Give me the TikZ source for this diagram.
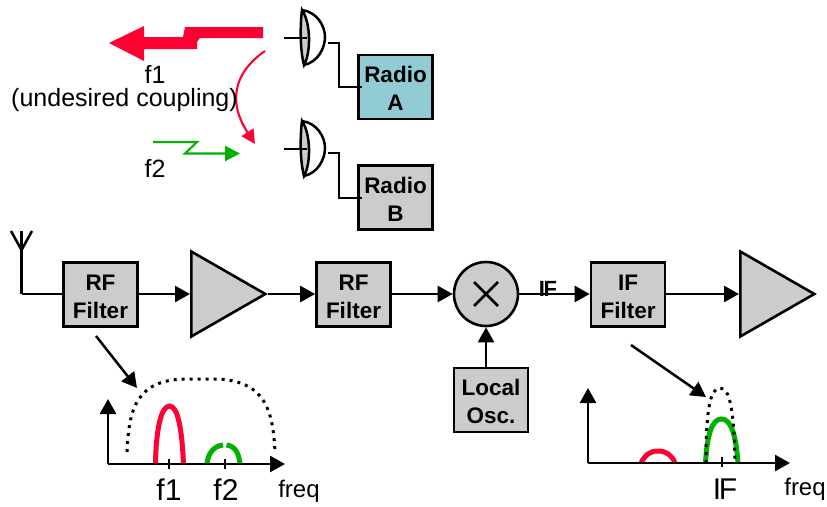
\documentclass[tikz,border=0pt]{standalone}
\usepackage{fontspec}
\setmainfont{Liberation Sans}
\usetikzlibrary{arrows.meta,shapes.geometric}
\definecolor{boxgray}{RGB}{204,204,204}
\definecolor{radioteal}{RGB}{145,204,212}
\definecolor{sigred}{RGB}{255,0,51}
\definecolor{siggreen}{RGB}{0,178,0}
\newcommand{\tl}{\rule{0pt}{19.4pt}}
\tikzset{
  blk/.style={draw=black,line width=2.6pt,fill=boxgray,minimum width=74pt,minimum height=64pt,inner sep=0pt,align=center,font=\fontsize{22.5}{28}\selectfont\bfseries},
  wire/.style={draw=black,line width=2.5pt},
  flow/.style={wire,-{Triangle[length=15pt,width=16pt]}},
  amp/.style={draw=black,line width=2.6pt,fill=boxgray,isosceles triangle,isosceles triangle apex angle=60,isosceles triangle stretches,minimum width=85pt,minimum height=74pt,inner sep=0pt,anchor=west},
  mixer/.style={draw=black,line width=2.6pt,fill=boxgray,circle,minimum size=64pt,inner sep=0pt},
  lbl/.style={inner sep=0pt,font=\fontsize{25}{28}\selectfont},
  biglbl/.style={inner sep=0pt,font=\fontsize{30}{34}\selectfont},
  smalllbl/.style={inner sep=0pt,font=\fontsize{24}{28}\selectfont},
  dish/.style={draw=black,line width=2.5pt},
  redpeak/.style={draw=sigred,line width=5pt},
  greenpeak/.style={draw=siggreen,line width=5pt},
  dotline/.style={draw=black,line width=3pt,dash pattern=on 3pt off 5pt},
}
\newcommand{\dishat}[2]{%
  \begin{scope}[shift={(#1,#2)}]
    \path[dish,fill=boxgray] (0,-28) .. controls (-2,-12) and (-2,12) .. (2,27) .. controls (9,15) and (9,-15) .. (0,-28) -- cycle;
    \path[dish] (0,-28) .. controls (15,-26) and (23,-12) .. (23,-1) .. controls (23,10) and (16,24) .. (2,27);
    \draw[wire] (-18,0) -- (5,0);
  \end{scope}}
\begin{document}
\begin{tikzpicture}[x=1pt,y=-1pt]
\useasboundingbox (0,0) rectangle (827,506);
% upper part
\fill[sigred] (109,43) -- (144,26) -- (144,37) -- (183,37) -- (185,27) -- (263,27) -- (263,38) -- (200,38) -- (197,42) -- (197,49) -- (144,49) -- (144,61) -- cycle;
\coordinate (cs) at (265,51);
\coordinate (ce) at (255,144);
\draw[draw=sigred,line width=2.1pt,-{Triangle[length=14pt,width=14pt]}] (cs) .. controls (240,68) and (224,96) .. (ce);
\coordinate (gs) at (153,142);
\coordinate (ge) at (240,153.5);
\draw[draw=siggreen,line width=2.1pt,-{Triangle[length=15pt,width=15pt]}] (gs) -- (197,142) -- (185,153.5) -- (ge);
\node[lbl] (f1t) at (155,74) {f1};
\node[lbl] (undes) at (124.5,100.5) {(undesired coupling)};
\node[lbl] (f2t) at (155,168) {f2};
\dishat{302}{38}
\dishat{302}{149}
\node[blk,fill=radioteal] (ra) at (395.5,87) {\tl Radio\\A};
\node[blk] (rb) at (395.5,197.5) {\tl Radio\\B};
\coordinate (da) at (328,43);
\coordinate (db) at (328,153);
\draw[wire] (da) -- (339,43) -- (339,87) -- (362,87);
\draw[wire] (db) -- (339,153) -- (339,198) -- (362,198);
% chain
\coordinate (antb) at (21.5,294);
\coordinate (anttop) at (21.5,250);
\draw[wire] (11,231) -- (anttop) -- (32,231);
\draw[wire] (21.5,231) -- (antb);
\node[blk] (rf1) at (100.5,294.5) {\tl RF\\Filter};
\node[amp] (a1) at (190,294) {};
\node[blk] (rf2) at (353.5,294.5) {\tl RF\\Filter};
\node[mixer] (mix) at (486,294) {};
\draw[draw=black,line width=2.8pt] (474,282) -- (498,306) (498,282) -- (474,306);
\node[blk] (lo) at (491,400) {\tl Local\\Osc.};
\node[blk] (iff) at (628,294.5) {\tl IF\\Filter};
\node[amp] (a2) at (739,294) {};
\draw[wire] (antb) -- (rf1.west |- antb);
\draw[flow] (rf1.east |- a1.west) -- (a1.west);
\draw[flow] (a1.east) -- (rf2.west |- a1.east);
\draw[flow] (rf2.east |- mix.west) -- (mix.west);
\draw[flow] (mix.east) -- (iff.west |- mix.east);
\draw[flow] (iff.east |- a2.west) -- (a2.west);
\draw[flow] (lo.north -| mix.south) -- (mix.south);
\node[inner sep=0pt,font=\fontsize{22}{26}\selectfont\bfseries] (iflbl) at (548,289) {I\kern-1.5pt F};
% left spectrum
\coordinate (o1) at (108,464);
\coordinate (y1) at (108,399);
\coordinate (x1) at (285,464);
\draw[redpeak] (155.5,464) .. controls (156,430) and (161,406) .. (169.5,406) .. controls (178,406) and (182,430) .. (183.5,464);
\draw[greenpeak] (207,464) .. controls (208,453) and (214,446) .. (223,445);
\draw[greenpeak] (226.5,445) .. controls (235,446) and (239,453) .. (240,464);
\draw[flow] (o1) -- (y1);
\draw[flow] (o1) -- (x1);
\draw[wire] (169,459) -- (169,469) (225,459) -- (225,469);
\draw[dotline] (127,452) .. controls (129,410) and (135,378) .. (190,379) .. controls (205,379) and (205,379) .. (215,379) .. controls (265,380) and (273,410) .. (275,452);
\coordinate (p1s) at (96,336);
\coordinate (p1e) at (137,388);
\draw[flow] (p1s) -- (p1e);
\node[biglbl] (f1b) at (169,490) {f1};
\node[biglbl] (f2b) at (226,490) {f2};
\node[smalllbl] (fq1) at (299,491) {freq};
% right spectrum
\coordinate (o2) at (588,463);
\coordinate (y2) at (588,388);
\coordinate (x2) at (790,463);
\draw[redpeak] (641,463) .. controls (645,455) and (650,451) .. (658,451) .. controls (666,451) and (672,455) .. (675,463);
\draw[greenpeak] (705.5,463) .. controls (707,435) and (712,419) .. (721.5,419) .. controls (731,419) and (736,435) .. (738,463);
\draw[dotline] (706,463) .. controls (706,410) and (710,388) .. (720,388) .. controls (730,388) and (734,410) .. (735,463);
\draw[flow] (o2) -- (y2);
\draw[flow] (o2) -- (x2);
\draw[wire] (722,457) -- (722,467);
\coordinate (p2s) at (631,345);
\coordinate (p2e) at (706,397);
\draw[flow] (p2s) -- (p2e);
\node[biglbl] (ifb) at (725,489) {I\kern-2.5pt F};
\node[smalllbl] (fq2) at (805,489) {freq};
\end{tikzpicture}
\end{document}
